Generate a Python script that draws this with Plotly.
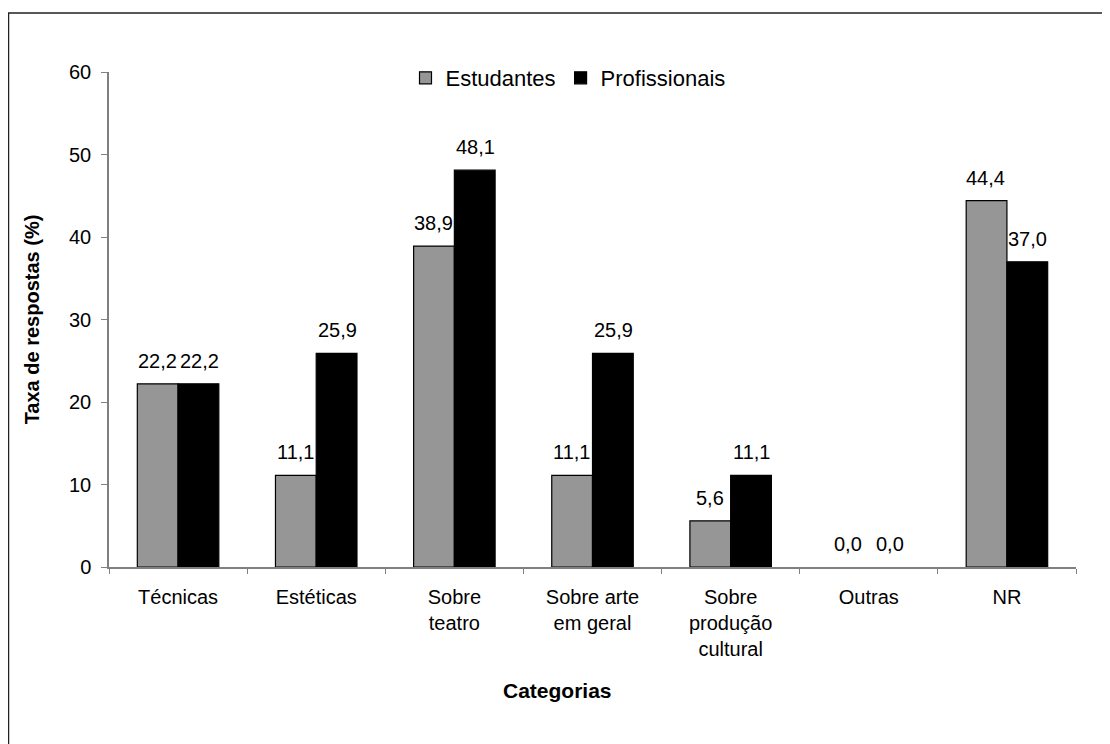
import plotly.graph_objects as go

categories = ["Técnicas", "Estéticas", "Sobre<br>teatro", "Sobre arte<br>em geral",
              "Sobre<br>produção<br>cultural", "Outras", "NR"]
estudantes = [22.2, 11.1, 38.9, 11.1, 5.6, 0.0, 44.4]
profissionais = [22.2, 25.9, 48.1, 25.9, 11.1, 0.0, 37.0]
y_ticks = [0, 10, 20, 30, 40, 50, 60]

FONT = "Liberation Sans, Arial, sans-serif"
OFF = 8  # page body margin
W, H = 1110 - OFF, 744 - OFF
L, T = 109 - OFF, 72 - OFF
R = W - (1076 - OFF)
B = H - (567 - OFF)
pw, ph = W - L - R, H - T - B

def fmt(v):
    return f"{v:.1f}".replace(".", ",")

def sx(px):  # screen x -> paper
    return (px - OFF - L) / pw

def sy(py):  # screen y -> paper
    return (H - B - (py - OFF)) / ph

fig = go.Figure()
fig.add_trace(go.Bar(name="Estudantes", x=categories, y=estudantes,
                     marker=dict(color="#969696",
                                 line=dict(color="#000000", width=[1.2 if v > 0 else 0 for v in estudantes]))))
fig.add_trace(go.Bar(name="Profissionais", x=categories, y=profissionais,
                     marker=dict(color="#000000",
                                 line=dict(color="#000000", width=[1.2 if v > 0 else 0 for v in profissionais]))))

annotations = []
for vals, shift in ((estudantes, -21), (profissionais, 21)):
    for c, v in zip(categories, vals):
        annotations.append(dict(x=c, y=v, xref="x", yref="y", text=fmt(v), showarrow=False,
                                xshift=shift, yshift=23, yanchor="middle",
                                font=dict(family=FONT, size=20, color="#000")))

annotations.append(dict(x=sx(557), y=sy(690), xref="paper", yref="paper",
                        text="<b>Categorias</b>", showarrow=False, xanchor="center", yanchor="middle",
                        font=dict(family=FONT, size=21, color="#000")))

fig.update_layout(
    width=W, height=H,
    margin=dict(l=L, r=R, t=T, b=B),
    paper_bgcolor="white", plot_bgcolor="white",
    barmode="group", bargap=0.41, bargroupgap=0,
    font=dict(family=FONT, size=20, color="#000"),
    showlegend=True,
    legend=dict(orientation="h", x=sx(568), xanchor="center", y=sy(78),
                yanchor="middle", font=dict(family=FONT, size=22, color="#000"),
                bgcolor="rgba(0,0,0,0)", traceorder="normal"),
    annotations=annotations,
    shapes=[dict(type="rect", xref="paper", yref="paper",
                 x0=sx(8.5), x1=sx(1140),
                 y0=sy(780), y1=sy(13),
                 line=dict(color="#222", width=1.5), fillcolor="rgba(0,0,0,0)", layer="below")],
)
fig.update_xaxes(type="category", showline=True, linecolor="#808080", linewidth=1.5,
                 ticks="outside", tickson="boundaries", ticklen=5, tickcolor="#808080",
                 ticklabelstandoff=11,
                 showgrid=False, tickfont=dict(family=FONT, size=20, color="#000"))
fig.update_yaxes(range=[0, 60], tickvals=y_ticks, showline=True, linecolor="#808080", linewidth=1.5,
                 ticks="outside", ticklen=6, tickcolor="#808080", showgrid=False, zeroline=False,
                 ticklabelstandoff=6,
                 tickfont=dict(family=FONT, size=20, color="#000"),
                 title=dict(text="<b>Taxa de respostas (%)</b>", standoff=24,
                            font=dict(family=FONT, size=20, color="#000")))

fig.write_html("out.html")
